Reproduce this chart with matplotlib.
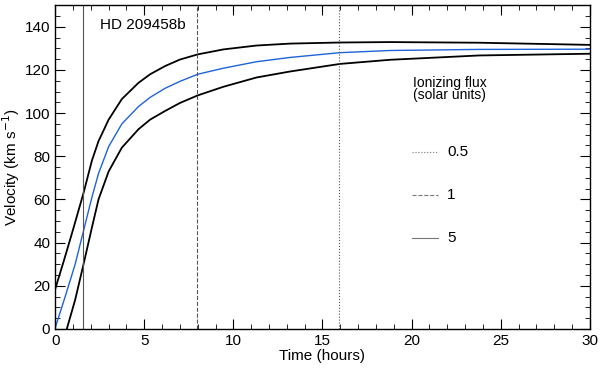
import matplotlib
matplotlib.use("Agg")
import matplotlib.pyplot as plt
from matplotlib.ticker import MultipleLocator

plt.rcParams['font.family'] = ['Liberation Sans', 'DejaVu Sans']

# time (hours) and velocity (km/s)
time_hi = [0.0, 0.5, 1.0, 1.59, 2.06, 2.43, 3.0, 3.74, 4.67, 5.33, 6.17, 7.0, 8.0, 9.44, 11.3, 13.2, 16.0, 18.8, 23.8, 30.0]
vel_hi = [18.5, 32, 46, 63, 78, 87, 97, 106.5, 114, 118, 121.8, 124.8, 127.2, 129.5, 131.3, 132.2, 132.7, 132.9, 132.6, 131.6]

time_mid = [0.0, 0.56, 1.12, 1.59, 2.06, 2.43, 3.0, 3.74, 4.67, 5.33, 6.17, 7.0, 8.0, 9.44, 11.3, 13.2, 16.0, 18.8, 23.8, 30.0]
vel_mid = [0.5, 15, 30, 45.5, 61, 72, 84.5, 95, 103, 107.3, 111.5, 114.7, 118, 120.8, 123.8, 125.8, 128, 129, 129.5, 129.6]

time_lo = [0.65, 1.12, 1.59, 2.06, 2.43, 3.0, 3.74, 4.67, 5.33, 6.17, 7.0, 8.0, 9.44, 11.3, 13.2, 16.0, 18.8, 23.8, 30.0]
vel_lo = [0, 13.5, 30, 47, 60, 73, 84, 92.5, 97, 101, 104.7, 108.2, 112.2, 116.5, 119.3, 122.8, 124.7, 126.7, 127.5]

# times where the wind becomes supersonic for each flux
flux_labels = ['0.5', '1', '5']
flux_times = [15.9, 7.95, 1.57]
flux_styles = [':', '--', '-']

fig = plt.figure(figsize=(6, 3.68), dpi=100)
ax = fig.add_axes([0.092, 0.106, 0.891, 0.88])

ax.plot(time_hi, vel_hi, color='black', lw=1.3)
ax.plot(time_lo, vel_lo, color='black', lw=1.3)
ax.plot(time_mid, vel_mid, color='#1f63d6', lw=1.0)

for t, ls in zip(flux_times, flux_styles):
    ax.axvline(t, color='#555555', ls=ls, lw=0.8)

ax.set_xlim(0, 30)
ax.set_ylim(0, 150)
ax.xaxis.set_major_locator(MultipleLocator(5))
ax.xaxis.set_minor_locator(MultipleLocator(1))
ax.yaxis.set_major_locator(MultipleLocator(20))
ax.yaxis.set_minor_locator(MultipleLocator(5))
ax.tick_params(which='both', direction='in', top=True, right=True, labelsize=11)
ax.tick_params(which='major', length=7)
ax.tick_params(which='minor', length=3.5)
for s in ax.spines.values():
    s.set_linewidth(1.0)

ax.set_xlabel('Time (hours)', fontsize=11, labelpad=1)
ax.set_ylabel(r'Velocity (km s$^{-1}$)', fontsize=11, labelpad=2)

ax.text(2.5, 141, 'HD 209458b', fontsize=11, ha='left', va='center')

# hand-made legend
ax.text(20.1, 111, 'Ionizing flux\n(solar units)', fontsize=10, ha='left', va='center', linespacing=0.8)
leg_y = [82, 62, 42]
for lab, ls, y in zip(flux_labels, flux_styles, leg_y):
    ax.plot([20.0, 21.5], [y, y], color='#777777', ls=ls, lw=0.8)
    ax.text(22.0, y, lab, fontsize=11, ha='left', va='center')

fig.savefig('out.png', dpi=100)
